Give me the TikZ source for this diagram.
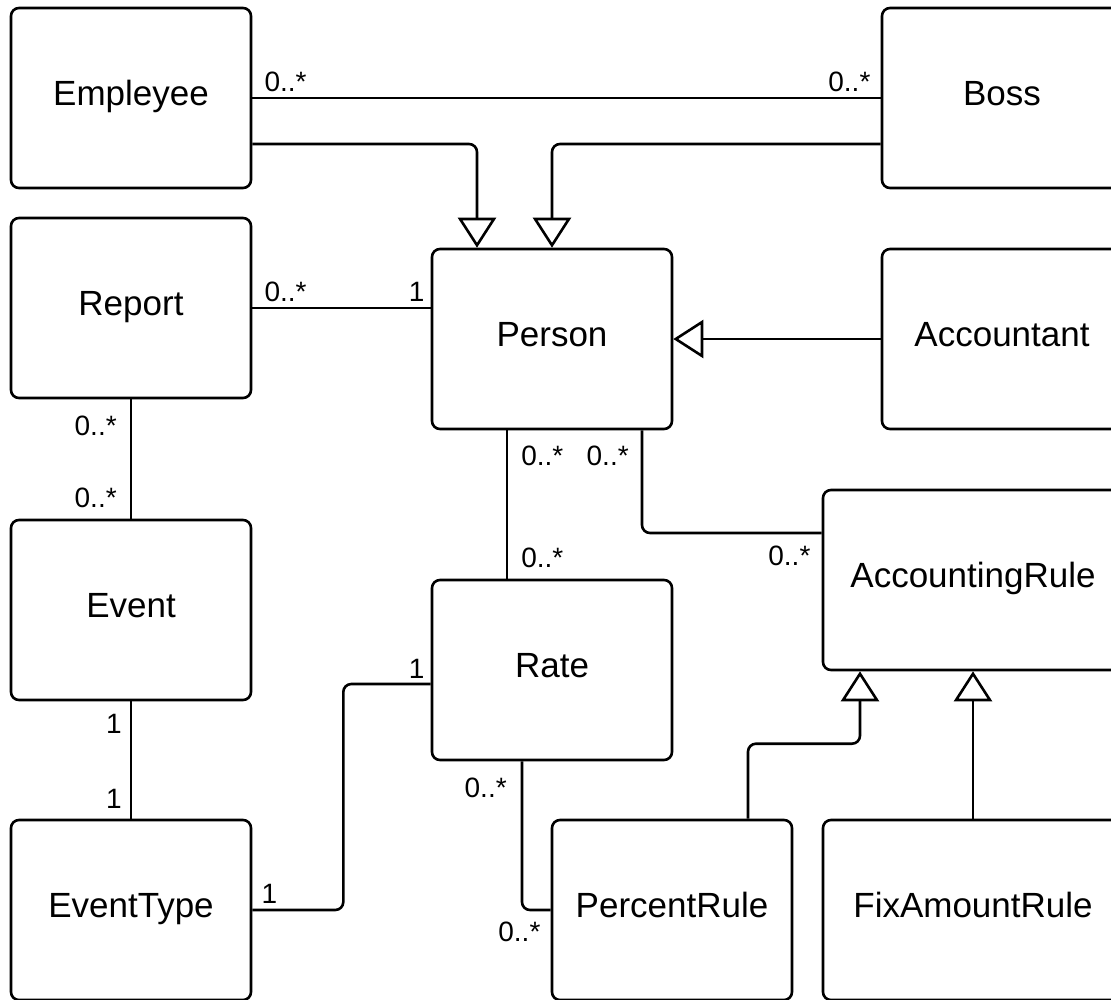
\documentclass[tikz,border=0pt]{standalone}
\usepackage{fontspec}
\setmainfont{Liberation Sans}
\usetikzlibrary{arrows.meta,positioning}

\begin{document}
\begin{tikzpicture}[x=1pt,y=-1pt,line width=2.6pt,
  cls/.style={draw,rounded corners=8pt,minimum width=240pt,minimum height=180pt,
    inner sep=0pt,font=\fontsize{35}{40}\selectfont,text height=24pt,text depth=10pt},
  widecls/.style={cls,minimum width=300pt},
  mult/.style={inner sep=0pt,font=\fontsize{28}{32}\selectfont},
  assoc/.style={rounded corners=8pt},
  gen/.style={rounded corners=8pt,-{Triangle[open,length=30pt,width=38pt]}}]
\useasboundingbox (0,0) rectangle (1111,999);

\node[cls] (employee) at (131,98) {Empleyee};
\node[cls] (boss) at (1002,98) {Boss};
\node[cls] (report) at (131,308) {Report};
\node[cls] (person) at (552,339) {Person};
\node[cls] (accountant) at (1002,339) {Accountant};
\node[cls] (event) at (131,610) {Event};
\node[cls] (rate) at (552,670) {Rate};
\node[widecls] (accrule) at (973,580) {AccountingRule};
\node[cls] (eventtype) at (131,910) {EventType};
\node[cls] (pctrule) at (672,910) {PercentRule};
\node[widecls] (fixrule) at (973,910) {FixAmountRule};

\draw[gen] ([yshift=-46pt]employee.east) -| ([xshift=-75pt]person.north);
\draw[gen] ([yshift=-46pt]boss.west) -| (person.north);
\draw[gen] (accountant.west) -- (person.east);
\draw[gen] ([xshift=76pt]pctrule.north) -- ++(0,-75) -| ([xshift=-113pt]accrule.south);
\draw[gen] (fixrule.north) -- (accrule.south -| fixrule.north);

\draw[assoc] (employee.east) -- (boss.west)
  node[mult,at start,above right=5pt and 11pt] (eb1) {0..*}
  node[mult,at end,above left=5pt and 9pt] (eb2) {0..*};
\draw[assoc] (report.east) -- (report.east -| person.west)
  node[mult,at start,above right=5pt and 11pt] (rp1) {0..*}
  node[mult,at end,above left=5pt and 5pt] (rp2) {1};
\draw[assoc] (report.south) -- (event.north)
  node[mult,at start,below left=15pt and 13pt] (re1) {0..*}
  node[mult,at end,above left=10pt and 13pt] (re2) {0..*};
\draw[assoc] (event.south) -- (eventtype.north)
  node[mult,at start,below left=12pt and 8pt] (ee1) {1}
  node[mult,at end,above left=9pt and 8pt] (ee2) {1};
\draw[assoc] (eventtype.east) -- ++(91,0)
  node[mult,at start,above right=5pt and 8pt] (er1) {1}
  |- ([yshift=-14pt]rate.west)
  node[mult,at end,above left=4pt and 5pt] (er2) {1};
\draw[assoc] ([xshift=-45pt]person.south) -- ([xshift=-45pt]rate.north)
  node[mult,at start,below right=14pt and 13pt] (pr1) {0..*}
  node[mult,at end,above right=10pt and 13pt] (pr2) {0..*};
\draw[assoc] ([xshift=90pt]person.south) |- ([yshift=47pt]accrule.west)
  node[mult,at start,below left=14pt and 12pt] (pa1) {0..*}
  node[mult,at end,below left=12pt and 10pt] (pa2) {0..*};
\draw[assoc] ([xshift=-30pt]rate.south) |- (pctrule.west)
  node[mult,at start,below left=15pt and 14pt] (rc1) {0..*}
  node[mult,at end,below left=11pt and 9pt] (rc2) {0..*};
\end{tikzpicture}
\end{document}
